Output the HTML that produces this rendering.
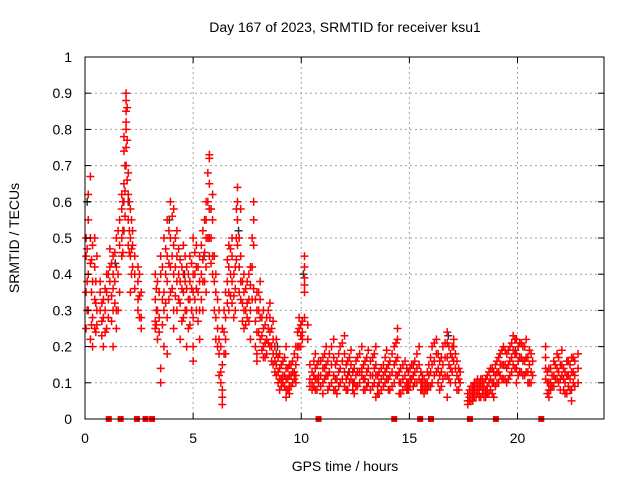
<!DOCTYPE html>
<html><head><meta charset="utf-8"><style>
body{margin:0;background:#fff;}
svg{display:block;font-family:"Liberation Sans",sans-serif;}
</style></head><body>
<svg id="chart" width="640" height="480" xmlns="http://www.w3.org/2000/svg">
<rect x="0" y="0" width="640" height="480" fill="#fff"/>
<text x="345" y="32" font-size="14" text-anchor="middle">Day 167 of 2023, SRMTID for receiver ksu1</text>
<text x="345" y="471" font-size="14" text-anchor="middle">GPS time / hours</text>
<text transform="translate(19,238) rotate(-90)" font-size="14" text-anchor="middle">SRMTID / TECUs</text>
<g id="grid"></g><g id="marks"></g><g id="axes"></g>
</svg>
<script>
const xTicks=[0,5,10,15,20];
const yTicks=[0,0.1,0.2,0.3,0.4,0.5,0.6,0.7,0.8,0.9,1];
const yTickLabels=["0","0.1","0.2","0.3","0.4","0.5","0.6","0.7","0.8","0.9","1"];
const times=[0.05,0.15,0.25,0.35,0.45,0.55,0.7,0.85,1.0,1.15,1.3,1.45,1.6,1.7,1.8,1.9,2.0,2.1,2.2,2.45,2.6,3.25,3.35,3.5,3.65,3.8,3.95,4.1,4.25,4.4,4.55,4.7,4.85,5.0,5.15,5.3,5.45,5.6,5.75,5.9,6.05,6.2,6.35,6.5,6.65,6.8,6.95,7.05,7.2,7.35,7.5,7.65,7.8,7.95,8.1,8.25,8.4,8.55,8.7,8.85,9.0,9.15,9.3,9.45,9.6,9.75,9.9,10.05,10.15,10.3,10.5,10.65,10.8,11.0,11.15,11.3,11.5,11.65,11.8,12.0,12.15,12.3,12.45,12.6,12.8,12.95,13.1,13.3,13.45,13.6,13.8,13.95,14.1,14.3,14.45,14.6,14.8,14.95,15.1,15.25,15.45,15.6,15.75,15.9,16.05,16.25,16.4,16.55,16.75,16.9,17.05,17.2,17.35,17.7,17.85,18.0,18.15,18.3,18.45,18.6,18.75,18.9,19.05,19.2,19.35,19.5,19.65,19.8,19.95,20.1,20.25,20.4,20.55,20.7,21.3,21.45,21.6,21.75,21.9,22.05,22.2,22.35,22.5,22.65,22.8];
const values=[[0.45,0.5,0.25,0.35],[0.62,0.55,0.4,0.3],[0.67,0.5,0.43,0.22],[0.48,0.38,0.28,0.2],[0.5,0.42,0.33,0.25],[0.45,0.3,0.26],[0.35,0.3,0.38],[0.28,0.33,0.2],[0.35,0.4,0.25],[0.42,0.38,0.47],[0.45,0.4,0.36,0.3,0.2],[0.5,0.42,0.3,0.25],[0.55,0.48,0.35],[0.62,0.58,0.5,0.45],[0.78,0.74,0.65,0.6,0.52],[0.9,0.88,0.85,0.82,0.8,0.75,0.7],[0.68,0.62,0.55,0.48],[0.58,0.5,0.45,0.35],[0.52,0.48,0.42],[0.42,0.38,0.33,0.3],[0.35,0.28,0.25],[0.4,0.33,0.27,0.25],[0.38,0.3,0.22],[0.45,0.4,0.14,0.1],[0.5,0.35,0.3,0.2],[0.55,0.45,0.38,0.28,0.18],[0.6,0.5,0.42,0.35],[0.58,0.48,0.4,0.3,0.25],[0.52,0.45,0.38,0.3],[0.44,0.38,0.32,0.22],[0.48,0.4,0.35,0.28],[0.42,0.36,0.3,0.2],[0.45,0.38,0.33,0.26],[0.5,0.4,0.35,0.28,0.2,0.16],[0.48,0.42,0.36,0.3],[0.45,0.38,0.3,0.22],[0.52,0.44,0.38,0.3],[0.6,0.55,0.5,0.42,0.35],[0.73,0.72,0.65,0.58,0.5,0.45],[0.62,0.55,0.45,0.4],[0.4,0.35,0.28,0.22],[0.3,0.22,0.18,0.12],[0.25,0.15,0.08,0.06,0.04],[0.35,0.28,0.22,0.18],[0.48,0.42,0.35,0.3],[0.5,0.45,0.38,0.32],[0.42,0.36,0.3],[0.64,0.6,0.55,0.48],[0.58,0.45,0.38,0.33],[0.4,0.35,0.3,0.25],[0.38,0.32,0.28],[0.42,0.37,0.3,0.22],[0.6,0.55,0.48,0.36],[0.35,0.3,0.24,0.18,0.16],[0.38,0.33,0.28,0.22],[0.3,0.25,0.2,0.17],[0.28,0.22,0.18],[0.32,0.28,0.24,0.2],[0.27,0.22,0.18,0.15],[0.22,0.18,0.15,0.12],[0.18,0.14,0.11,0.08],[0.16,0.12,0.1],[0.2,0.14,0.11,0.08,0.06],[0.15,0.12,0.09,0.07],[0.16,0.13,0.1],[0.2,0.15,0.12,0.1],[0.28,0.25,0.2],[0.27,0.24,0.22],[0.45,0.42,0.39,0.37,0.35,0.28],[0.26,0.22],[0.13,0.1,0.08],[0.18,0.14,0.11,0.08],[0.16,0.12,0.1],[0.17,0.14,0.1,0.07],[0.2,0.15,0.12],[0.18,0.13,0.09],[0.22,0.17,0.12,0.08],[0.16,0.11,0.07],[0.2,0.14,0.1],[0.23,0.18,0.13,0.09],[0.16,0.12,0.08],[0.19,0.15,0.11],[0.14,0.1,0.07],[0.17,0.13,0.09],[0.2,0.14,0.12],[0.16,0.11,0.08],[0.19,0.14,0.1],[0.17,0.12,0.09],[0.2,0.15,0.12,0.06],[0.13,0.1,0.07],[0.15,0.12,0.09],[0.19,0.14,0.11],[0.16,0.12,0.08],[0.2,0.15,0.1],[0.25,0.22,0.17,0.12],[0.14,0.1,0.07],[0.16,0.12,0.09],[0.13,0.1,0.08],[0.15,0.11],[0.16,0.13,0.1],[0.2,0.15,0.11],[0.12,0.1,0.08],[0.1,0.08],[0.15,0.12,0.09],[0.2,0.15,0.1],[0.22,0.18,0.13],[0.16,0.12,0.08],[0.2,0.15,0.11],[0.24,0.21,0.17,0.12,0.06],[0.18,0.14,0.1],[0.22,0.2,0.16],[0.16,0.12,0.08],[0.13,0.1],[0.07,0.05,0.04],[0.09,0.07,0.05],[0.1,0.08,0.06],[0.11,0.09,0.07],[0.11,0.09,0.06],[0.1,0.08,0.06],[0.12,0.09,0.07],[0.14,0.11,0.08],[0.13,0.1,0.06],[0.16,0.13,0.1],[0.18,0.15,0.12],[0.2,0.15,0.11],[0.18,0.14,0.1],[0.2,0.16,0.12],[0.23,0.19,0.15],[0.22,0.18,0.14,0.1],[0.21,0.17,0.13],[0.2,0.16,0.12],[0.22,0.17,0.13],[0.19,0.15,0.1],[0.16,0.12],[0.2,0.17,0.14,0.11],[0.14,0.1,0.08,0.06],[0.12,0.09],[0.15,0.11],[0.17,0.13,0.1],[0.19,0.15,0.12],[0.13,0.1,0.07],[0.16,0.12,0.09],[0.17,0.13,0.08,0.05],[0.16,0.12,0.09],[0.18,0.14,0.1]];
const times2=[0.1,0.3,0.5,0.78,0.93,1.08,1.23,1.38,1.53,1.75,1.85,1.95,2.05,2.15,2.3,2.52,3.3,3.43,3.58,3.73,3.88,4.03,4.18,4.33,4.48,4.63,4.78,4.93,5.08,5.23,5.38,5.53,5.68,5.83,5.98,6.13,6.28,6.43,6.58,6.73,6.88,7.0,7.13,7.28,7.43,7.58,7.73,7.88,8.03,8.18,8.33,8.48,8.63,8.78,8.93,9.08,9.23,9.38,9.53,9.68,9.83,9.98,10.4,10.58,10.73,10.9,11.08,11.23,11.4,11.58,11.73,11.9,12.08,12.23,12.38,12.53,12.7,12.88,13.03,13.2,13.38,13.53,13.7,13.88,14.03,14.2,14.38,14.53,14.7,14.88,15.03,15.18,15.35,15.53,15.68,15.83,15.98,16.15,16.33,16.48,16.65,16.83,16.98,17.13,17.28,17.78,17.93,18.08,18.23,18.38,18.53,18.68,18.83,18.98,19.13,19.28,19.43,19.58,19.73,19.88,20.03,20.18,20.33,20.48,20.63,21.38,21.53,21.68,21.83,21.98,22.13,22.28,22.43,22.58,22.73];
const values2=[[0.47,0.38,0.3],[0.44,0.35,0.26],[0.38,0.32,0.24],[0.32,0.27,0.23],[0.3,0.24,0.36],[0.4,0.33,0.28],[0.43,0.34,0.27],[0.46,0.38,0.32],[0.52,0.4,0.3],[0.6,0.52,0.46],[0.7,0.63,0.56],[0.86,0.77,0.66],[0.6,0.52,0.46],[0.55,0.47,0.4],[0.45,0.4,0.36],[0.4,0.34,0.28],[0.36,0.3,0.26],[0.35,0.28,0.24],[0.42,0.33,0.26],[0.47,0.4,0.32],[0.52,0.43,0.33],[0.56,0.45,0.36],[0.5,0.42,0.34],[0.47,0.4,0.33],[0.42,0.36,0.27],[0.45,0.38,0.3],[0.4,0.33,0.25],[0.43,0.36,0.3],[0.46,0.4,0.33],[0.42,0.35,0.27],[0.48,0.4,0.33],[0.55,0.46,0.38],[0.68,0.6,0.5],[0.58,0.5,0.43],[0.45,0.38,0.3],[0.33,0.25,0.2],[0.2,0.13,0.1],[0.3,0.24,0.18],[0.44,0.38,0.32],[0.47,0.4,0.34],[0.4,0.34,0.28],[0.58,0.5,0.44],[0.5,0.42,0.35],[0.38,0.32,0.27],[0.36,0.3,0.26],[0.4,0.33,0.27],[0.5,0.42,0.33],[0.33,0.27,0.2],[0.35,0.3,0.24],[0.28,0.23,0.19],[0.26,0.21,0.17],[0.3,0.25,0.21],[0.25,0.2,0.16],[0.2,0.16,0.13],[0.17,0.13,0.1],[0.15,0.11,0.09],[0.17,0.12,0.09],[0.14,0.11,0.08],[0.15,0.12,0.09],[0.18,0.13,0.11],[0.24,0.2,0.17],[0.26,0.23,0.2],[0.15,0.11,0.09],[0.16,0.12,0.09],[0.15,0.11,0.08],[0.16,0.12,0.09],[0.18,0.14,0.11],[0.16,0.12,0.08],[0.2,0.15,0.1],[0.15,0.11,0.08],[0.18,0.13,0.09],[0.21,0.16,0.11],[0.15,0.11,0.08],[0.17,0.13,0.1],[0.13,0.1,0.08],[0.16,0.12,0.09],[0.18,0.13,0.1],[0.15,0.11,0.08],[0.17,0.13,0.09],[0.16,0.12,0.08],[0.18,0.14,0.1],[0.12,0.09,0.07],[0.14,0.11,0.08],[0.17,0.13,0.1],[0.15,0.11,0.08],[0.18,0.13,0.09],[0.21,0.16,0.12],[0.13,0.1,0.07],[0.15,0.11,0.08],[0.14,0.1,0.08],[0.14,0.11,0.09],[0.15,0.12,0.09],[0.18,0.14,0.1],[0.13,0.1,0.08],[0.11,0.09,0.07],[0.13,0.1,0.08],[0.17,0.13,0.09],[0.21,0.16,0.12],[0.18,0.14,0.1],[0.17,0.13,0.09],[0.21,0.17,0.12],[0.2,0.15,0.11],[0.2,0.17,0.13],[0.18,0.14,0.1],[0.14,0.11,0.08],[0.08,0.06,0.05],[0.09,0.07,0.05],[0.1,0.08,0.06],[0.1,0.08,0.06],[0.11,0.09,0.07],[0.11,0.08,0.06],[0.13,0.1,0.07],[0.14,0.1,0.07],[0.15,0.12,0.09],[0.17,0.13,0.1],[0.19,0.15,0.11],[0.19,0.15,0.11],[0.19,0.15,0.11],[0.21,0.17,0.13],[0.22,0.18,0.14],[0.2,0.16,0.12],[0.21,0.17,0.13],[0.2,0.16,0.12],[0.17,0.13,0.1],[0.18,0.13,0.1],[0.13,0.1,0.07],[0.14,0.1,0.08],[0.16,0.12,0.09],[0.18,0.14,0.11],[0.15,0.11,0.08],[0.14,0.11,0.08],[0.16,0.12,0.07],[0.15,0.11,0.08],[0.17,0.13,0.1]];
const grayTimes=[0.1,1.4,2.0,3.9,4.6,5.5,7.1,8.9,10.1,12.2,16.8,19.9];
const grayValues=[0.6,0.43,0.6,0.55,0.4,0.45,0.52,0.2,0.4,0.13,0.23,0.19];
const zeroTimes=[1.1,1.65,2.4,2.8,3.1,10.8,14.3,15.5,16.0,17.8,19.0,21.1];

const L=85,R=604,T=57,B=419,XMAX=24;
const xs=t=>L+t/XMAX*(R-L), ys=v=>B-v*(B-T);
const NS="http://www.w3.org/2000/svg";
const grid=document.getElementById('grid'),marks=document.getElementById('marks'),axes=document.getElementById('axes');
function mk(tag,attrs,parent){const e=document.createElementNS(NS,tag);for(const k in attrs)e.setAttribute(k,attrs[k]);parent.appendChild(e);return e;}
yTicks.forEach((v,i)=>{
 const y=ys(v);
 if(v>0&&v<1){const g=mk('line',{x1:L,x2:R,y1:y,y2:y,stroke:'#a0a0a0','stroke-dasharray':'2,3'},grid);
 
 }
 mk('line',{x1:L,x2:L+6,y1:y,y2:y,stroke:'#000'},axes);
 mk('line',{x1:R,x2:R-6,y1:y,y2:y,stroke:'#000'},axes);
 const t=mk('text',{x:L-13,y:y+5,'font-size':14,'text-anchor':'end'},axes);
 t.textContent=yTickLabels[i];
 
 
});
xTicks.forEach(v=>{
 const x=xs(v);
 if(v>0){const g=mk('line',{x1:x,x2:x,y1:T,y2:B,stroke:'#a0a0a0','stroke-dasharray':'2,3'},grid);
 
 }
 mk('line',{x1:x,x2:x,y1:B,y2:B-6,stroke:'#000'},axes);
 mk('line',{x1:x,x2:x,y1:T,y2:T+6,stroke:'#000'},axes);
 const t=mk('text',{x:x,y:B+24,'font-size':14,'text-anchor':'middle'},axes);
 t.textContent=String(v);
 
 
});
const border=mk('rect',{x:L,y:T,width:R-L,height:B-T,fill:'none',stroke:'#000'},axes);


function cross(t,v,col,name){
 const x=xs(t),y=ys(v);
 const p=mk('path',{d:`M${x-4} ${y}H${x+4}M${x} ${y-4}V${y+4}`,stroke:col,'stroke-width':1.5,fill:'none'},marks);
 
 
}
zeroTimes.forEach(t=>{
 const r=mk('rect',{x:xs(t)-3,y:B-3,width:6,height:6,fill:'#ff0000'},marks);
 
 
});
grayTimes.forEach((t,i)=>cross(t,grayValues[i],'#333','gray-point'));
times.forEach((t,i)=>(values[i]||[]).forEach(v=>cross(t,v,'#ff0000','srmtid-point')));
times2.forEach((t,i)=>(values2[i]||[]).forEach(v=>cross(t,v,'#ff0000','srmtid-point')));
</script>
</body></html>
